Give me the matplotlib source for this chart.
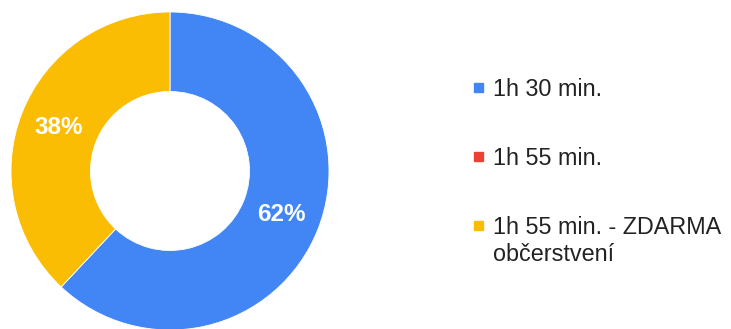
import matplotlib
matplotlib.use("Agg")
import matplotlib.pyplot as plt
from matplotlib.patches import Rectangle

# data
labels = ['1h 30 min.', '1h 55 min.', '1h 55 min. - ZDARMA\nobčerstvení']
values = [62, 0, 38]
colors = ['#4285F4', '#EA4335', '#FBBC04']

W, H = 731, 329
fig = plt.figure(figsize=(W / 100, H / 100), dpi=100)
plt.rcParams['font.family'] = ['Liberation Sans', 'DejaVu Sans']

# donut: centre ~ (170, 171) px, radius ~159 px
ax = fig.add_axes([11 / W, (H - 330) / H, 318 / W, 318 / H])
wedges, texts, autotexts = ax.pie(
    values, colors=colors, startangle=90, counterclock=False,
    autopct=lambda p: f'{p:.0f}%' if p > 0 else '', pctdistance=0.75,
    wedgeprops=dict(width=0.5, edgecolor='white', linewidth=0.6),
    textprops=dict(color='white', fontsize=17.5, fontweight='bold'))
ax.set_xlim(-1, 1)
ax.set_ylim(-1, 1)
ax.set_aspect('equal')

# legend drawn by hand (baseline of first line of each entry, px from top)
baselines = [96, 165, 234]
line_gap = 27
for lab, col, yb in zip(labels, colors, baselines):
    fig.patches.append(Rectangle((474 / W, (H - yb + 4) / H), 9 / W, 9 / H,
                                 transform=fig.transFigure, color=col))
    for i, line in enumerate(lab.split('\n')):
        fig.text(493 / W, (H - yb - i * line_gap) / H, line, fontsize=16.8,
                 color='#222222', va='baseline', ha='left')

fig.savefig('out.png', dpi=100)
